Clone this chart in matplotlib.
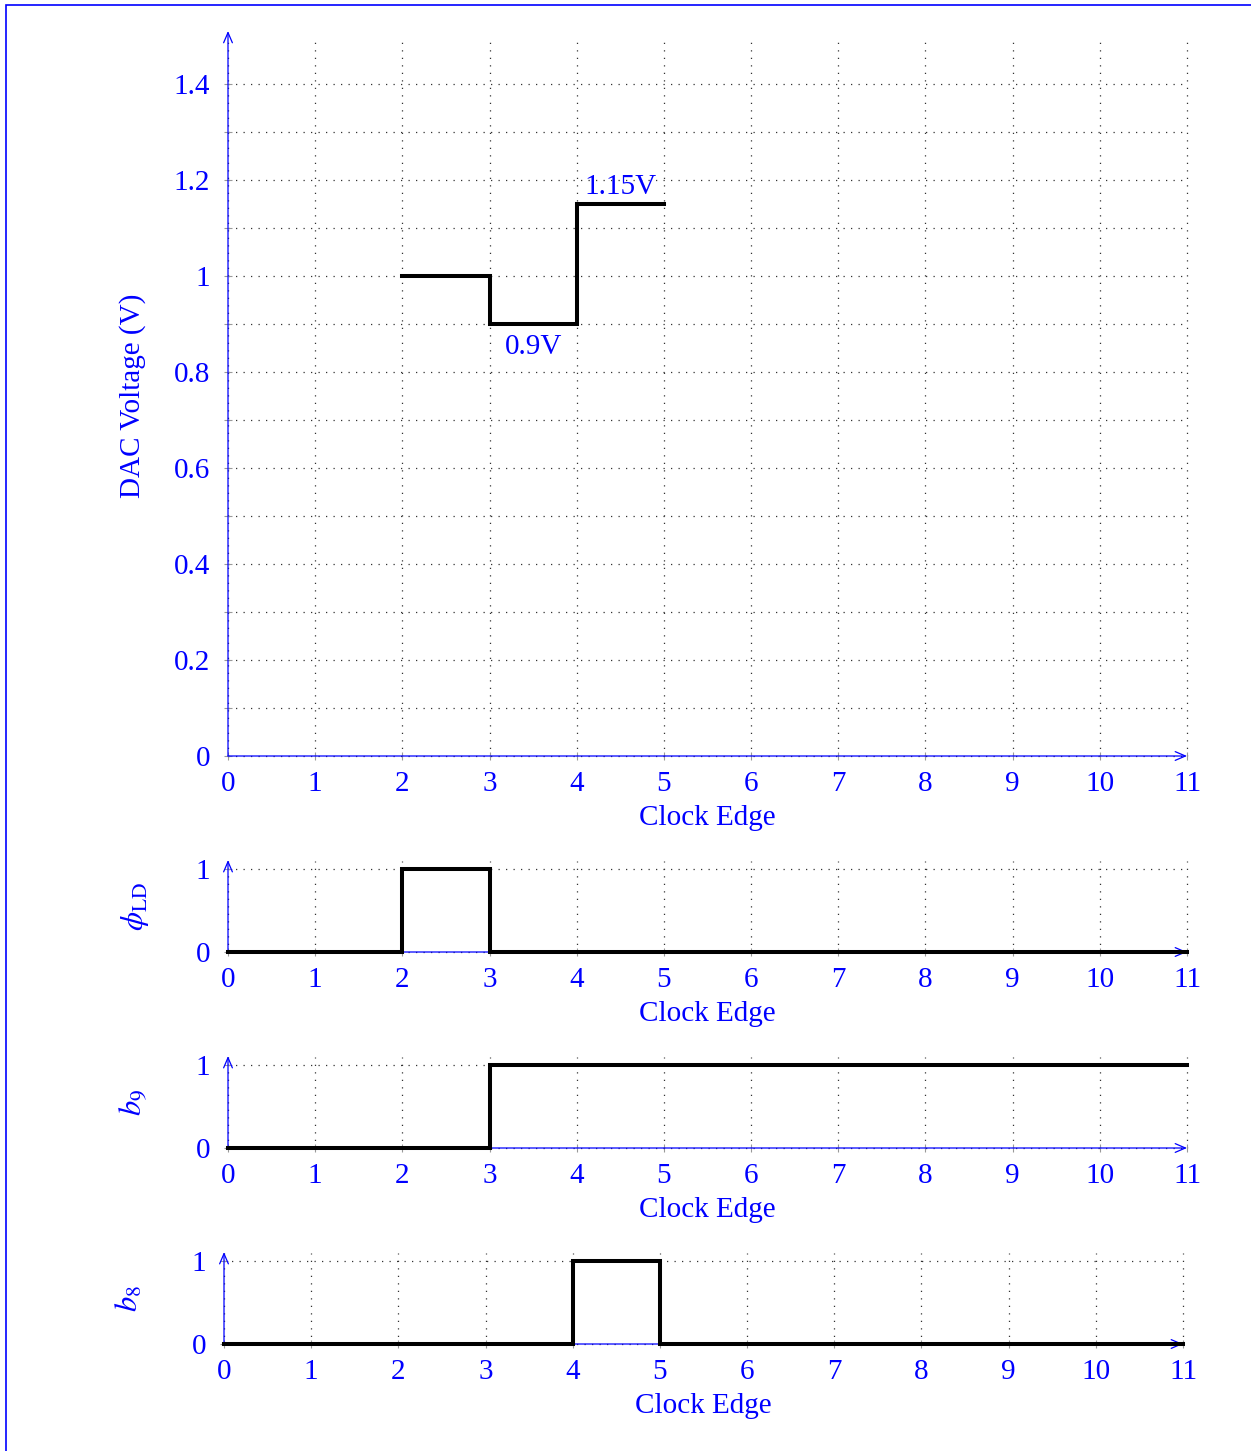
import matplotlib
matplotlib.use("Agg")
import matplotlib.pyplot as plt
from matplotlib.patches import Rectangle
import numpy as np

plt.rcParams['font.family'] = ['Liberation Serif', 'DejaVu Serif']
plt.rcParams['mathtext.fontset'] = 'stix'
plt.rcParams['font.size'] = 21

BLUE = '#0000ff'

# ---- data ----
clock_ticks = list(range(0, 12))
dac_edges = [2, 3, 4, 5]
dac_values = [1.0, 0.9, 1.15, 1.15]
dac_yticks = [0, 0.2, 0.4, 0.6, 0.8, 1.0, 1.2, 1.4]
dac_ytick_labels = ['0', '0.2', '0.4', '0.6', '0.8', '1', '1.2', '1.4']
dac_annot = [(3.5, 0.852, '0.9V'), (4.5, 1.186, '1.15V')]

phi_edges = [0, 2, 3, 11]
phi_values = [0, 1, 0, 0]
b9_edges = [0, 3, 11]
b9_values = [0, 1, 1]
b8_edges = [0, 4, 5, 11]
b8_values = [0, 1, 0, 0]

W, H = 1251, 1451
fig = plt.figure(figsize=(W / 100, H / 100), dpi=100)

# page border (partially cut off at right and bottom)
fig.add_artist(Rectangle((6 / W, -0.1), 1.2, 1 - 5 / H + 0.1, transform=fig.transFigure,
                         fill=False, edgecolor=BLUE, linewidth=1.2))


def make_axes(left_px, bottom_px, height_px, ytop):
    ax = fig.add_axes([left_px / W, 1 - bottom_px / H, 959 / W, height_px / H])
    ax.set_xlim(0, 11)
    ax.set_ylim(0, ytop)
    for s in ax.spines.values():
        s.set_visible(False)
    ax.set_xticks(clock_ticks)
    ax.set_xticklabels([str(t) for t in clock_ticks])
    ax.tick_params(axis='both', which='both', direction='inout', length=6,
                   color='0.6', width=0.8, labelcolor=BLUE, labelsize=21)
    ax.tick_params(axis='x', pad=8)
    ax.tick_params(axis='y', pad=10)
    ax.grid(True, which='both', color='0.2', linestyle=(0, (1, 5)), linewidth=0.9)
    ax.set_axisbelow(True)
    for gl in ax.get_xgridlines() + ax.get_ygridlines():
        gl.set_clip_on(False)
    # axes arrows
    ax.annotate('', xy=(11, 0), xytext=(0, 0),
                arrowprops=dict(arrowstyle='->,head_length=0.35,head_width=0.15',
                                color=BLUE, lw=0.9, shrinkA=0, shrinkB=0),
                annotation_clip=False, zorder=1)
    ax.annotate('', xy=(0, ytop * 1.007), xytext=(0, 0),
                arrowprops=dict(arrowstyle='->,head_length=0.35,head_width=0.15',
                                color=BLUE, lw=0.9, shrinkA=0, shrinkB=0),
                annotation_clip=False, zorder=1)
    ax.set_xlabel('Clock Edge', color=BLUE, fontsize=21, va='center')
    ax.xaxis.set_label_coords(0.5, -62 / height_px)
    return ax


# main DAC axes
ax0 = make_axes(228, 756, 720, 1.5)
ax0.set_yticks(dac_yticks)
ax0.set_yticklabels(dac_ytick_labels)
ax0.set_yticks(np.arange(0.1, 1.5, 0.2), minor=True)
ax0.plot(dac_edges, dac_values, drawstyle='steps-post', color='black', lw=2.9, zorder=3,
         solid_joinstyle='miter')
for x, y, s in dac_annot:
    ax0.text(x, y, s, color=BLUE, ha='center', va='center', fontsize=21)
ax0.set_ylabel('DAC Voltage (V)', color=BLUE, fontsize=21, va='center')
ax0.yaxis.set_label_coords(-95 / 959, 0.5)

panels = [
    (228, 952, phi_edges, phi_values, r'$\phi_{\mathrm{LD}}$', 93),
    (228, 1148, b9_edges, b9_values, r'$b_9$', 95),
    (224, 1344, b8_edges, b8_values, r'$b_8$', 94),
]
for left, bottom, xe, yv, lab, off in panels:
    ax = make_axes(left, bottom, 91.3, 1.1)
    ax.set_yticks([0, 1])
    ax.set_yticklabels(['0', '1'])
    ax.plot(xe, yv, drawstyle='steps-post', color='black', lw=2.9, zorder=3,
            solid_joinstyle='miter', clip_on=False)
    ax.set_ylabel(lab, color=BLUE, fontsize=22, va='center')
    ax.yaxis.set_label_coords(-off / 959, 0.5)

fig.savefig('out.png', dpi=100)
